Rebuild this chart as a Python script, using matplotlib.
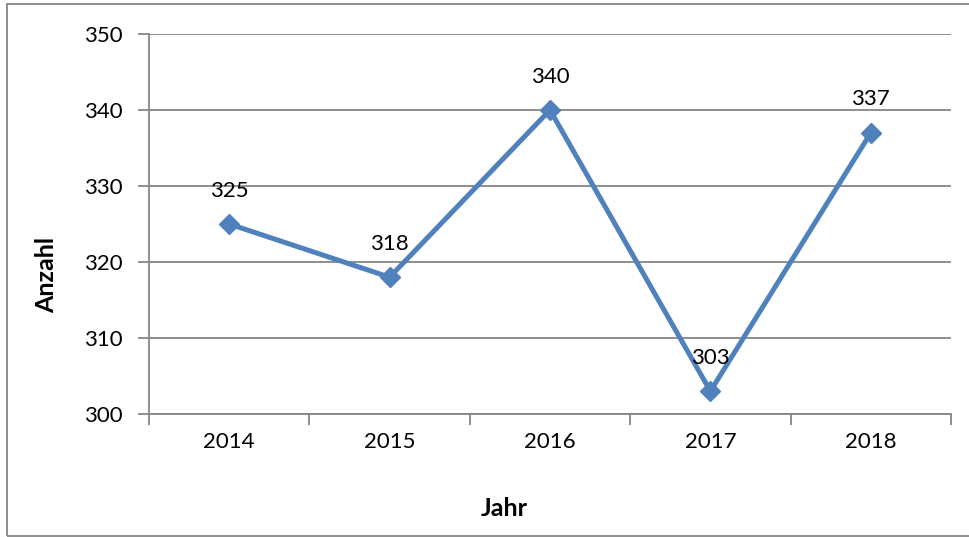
import matplotlib.pyplot as plt
import numpy as np
from matplotlib.patches import Rectangle

plt.rcParams['font.family'] = ['Lato', 'DejaVu Sans']

years = ['2014', '2015', '2016', '2017', '2018']
anzahl = [325, 318, 340, 303, 337]
y_ticks = [300, 310, 320, 330, 340, 350]

grid_color = '#868686'
line_color = '#4F81BD'

fig = plt.figure(figsize=(9.69, 5.37), dpi=100)
ax = fig.add_axes([149 / 969, 1 - 414 / 537, (951 - 149) / 969, (414 - 34) / 537])

x = np.arange(len(years)) + 0.5
ax.plot(x, anzahl, color=line_color, linewidth=3.6, marker='D', markersize=10,
        markerfacecolor=line_color, markeredgecolor=line_color, zorder=3)
for xi, v in zip(x, anzahl):
    ax.annotate(str(v), (xi, v), xytext=(0, 24), textcoords='offset points',
                ha='center', va='center', fontsize=16)

ax.set_xlim(0, len(years))
ax.set_ylim(300, 350)
ax.set_yticks(y_ticks)
ax.set_yticklabels([str(t) for t in y_ticks], fontsize=16)
ax.yaxis.grid(True, color=grid_color, linewidth=1.3)
ax.set_axisbelow(True)

ax.set_xticks(np.arange(len(years) + 1))
ax.set_xticklabels([''] * (len(years) + 1))
ax.set_xticks(x, minor=True)
ax.set_xticklabels(years, minor=True, fontsize=16)
ax.tick_params(axis='x', which='major', length=8, width=1.3, color=grid_color, direction='out')
ax.tick_params(axis='x', which='minor', length=0, pad=13)
ax.tick_params(axis='y', length=8, width=1.3, color=grid_color, direction='out', pad=11)

for s in ['top', 'right']:
    ax.spines[s].set_visible(False)
for s in ['left', 'bottom']:
    ax.spines[s].set_color(grid_color)
    ax.spines[s].set_linewidth(1.3)

ax.set_xlabel('Jahr', fontsize=18, fontweight='bold', va='center')
ax.xaxis.set_label_coords((504 - 149) / 802, (414 - 509) / 380)
ax.set_ylabel('Anzahl', fontsize=18, fontweight='bold', va='center')
ax.yaxis.set_label_coords((47 - 149) / 802, (414 - 275) / 380)

fig.patches.append(Rectangle((7 / 969, 1 / 537), (969 - 7) / 969 + 0.01, (533 - 1) / 537,
                             transform=fig.transFigure, fill=False,
                             edgecolor=grid_color, linewidth=1.3))

fig.savefig('out.png', dpi=100)
